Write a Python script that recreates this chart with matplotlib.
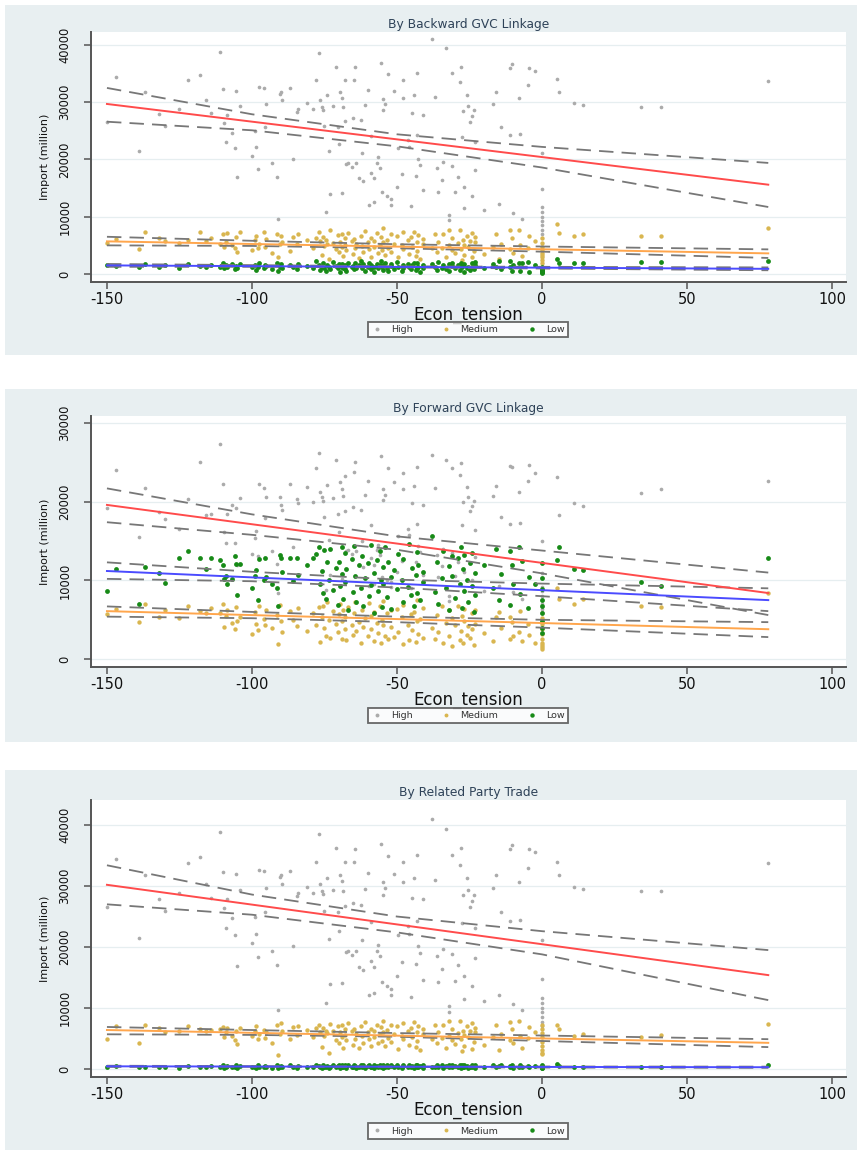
import matplotlib
matplotlib.use("Agg")
import matplotlib.pyplot as plt
from matplotlib.patches import Rectangle
from matplotlib.lines import Line2D

plt.rcParams["font.family"] = ["DejaVu Sans"]
plt.rcParams["axes.unicode_minus"] = False

# === Data ===
ECON_TENSION = [
    -150, -147, -139, -137, -132, -130, -125, -122, -118, -116,
    -114, -111, -110, -109.5, -109, -108.5, -107, -106, -105.5, -105,
    -104, -100, -99, -98.5, -98, -97.5, -96, -95.5, -95, -93,
    -91.5, -91, -90.5, -90, -89.5, -87, -86, -84.5, -84, -81,
    -79, -78, -77, -76.5, -76, -75.5, -75, -74.5, -74, -73.5,
    -73, -72, -71, -70.5, -70, -69.5, -69, -68.8, -68.5, -68,
    -67.8, -67.5, -67, -65.5, -65, -64.8, -64.5, -64, -63, -62.5,
    -62, -61.8, -61, -60, -59.8, -59, -58.8, -58, -57.8, -57,
    -56.5, -56, -55.5, -55.2, -55, -54.8, -54, -53.5, -53, -52.2,
    -52, -51, -50, -49.8, -48.2, -48, -47.8, -46.2, -46, -45.2,
    -45, -44, -43.5, -43.2, -43, -42.8, -42, -41.2, -41, -38,
    -37, -36.2, -36, -34.5, -34, -33, -32.2, -32, -31.2, -31,
    -30, -29, -28.2, -28, -27.6, -27.2, -27, -26.8, -26, -25.5,
    -25, -24.2, -24, -23.5, -23.2, -23, -20, -17, -16, -15,
    -14, -11.2, -11, -10.2, -10, -8, -7.5, -7, -5, -4.5,
    -2.5, 0, 0, 0, 0, 0, 0, 0, 0, 0,
    5, 6, 11, 14, 34, 41, 78,
]

# By Backward GVC Linkage
BACKWARD_HIGH = [
    26500, 34400, 21500, 31800, 27900, 25900, 28800, 33800, 34800, 30400,
    28100, 38800, 32300, 26400, 23100, 27800, 24700, 22000, 32000, 16900,
    29400, 20600, 24900, 22200, 18400, 32700, 32500, 25700, 29700, 19400,
    17000, 9600, 31400, 31800, 30400, 32500, 20100, 28300, 28900, 29900,
    28900, 33900, 38600, 30400, 29200, 28700, 25900, 10900, 31300, 21400,
    14000, 29300, 36200, 25700, 22700, 31800, 30800, 14100, 29200, 33900,
    26700, 19200, 19400, 18700, 27300, 33900, 36100, 19400, 16800, 26900,
    21200, 16300, 29500, 32100, 12100, 17700, 24100, 12500, 16800, 19400,
    20400, 18500, 36900, 14300, 30600, 28600, 29700, 13600, 34900, 13100,
    12100, 32000, 15200, 22000, 17500, 33900, 30700, 23400, 22200, 11800,
    28100, 31300, 17200, 35100, 24300, 20100, 19000, 14600, 27800, 41000,
    31000, 18500, 14300, 16400, 19600, 39400, 10300, 9400, 35100, 18900,
    14400, 17000, 33500, 36200, 24000, 28500, 15200, 11500, 31300, 29300,
    26600, 27600, 13600, 28600, 23100, 18200, 11100, 29700, 31800, 12200,
    25700, 24300, 36000, 36700, 10700, 30700, 24500, 9600, 33000, 36000,
    35500, 21100, 14800, 11700, 10800, 10000, 9300, 8600, 7700, 7000,
    34000, 31800, 29900, 29500, 29200, 29200, 33700,
]
BACKWARD_MEDIUM = [
    5400, 6100, 4400, 7300, 6200, 5800, 5400, 6000, 7300, 5800,
    6300, 5200, 6900, 4800, 5600, 7100, 5100, 4600, 6500, 3900,
    7300, 4200, 5900, 6600, 4500, 5300, 7300, 4800, 6100, 3600,
    7000, 3000, 5200, 6700, 5600, 4100, 6400, 5300, 7000, 5900,
    4500, 6200, 7400, 5700, 3300, 6500, 4900, 6000, 5200, 2600,
    7600, 5400, 4300, 6800, 3800, 5600, 7000, 4700, 3100, 6300,
    5000, 4200, 7200, 5700, 3500, 6100, 4600, 5300, 2800, 6700,
    4900, 3900, 7500, 5500, 4400, 6200, 3000, 5800, 4700, 7100,
    3700, 5100, 6500, 4200, 8000, 5600, 3300, 6000, 4600, 7000,
    3900, 5200, 6600, 2900, 5000, 7300, 4300, 5900, 3500, 6400,
    4800, 7400, 3200, 5500, 4100, 6800, 2700, 5300, 6100, 4500,
    7000, 3800, 5600, 4600, 6900, 3000, 5000, 7600, 4200, 6300,
    3600, 5400, 7700, 4400, 2500, 6000, 5100, 3300, 6700, 4700,
    5800, 2900, 7200, 4000, 5500, 6400, 3500, 4800, 6900, 2600,
    5200, 7600, 4300, 6200, 3700, 7600, 5000, 3100, 4600, 6600,
    5700, 4800, 4200, 3600, 3000, 2400, 2000, 5400, 6200, 3300,
    8700, 7200, 6600, 6900, 6600, 6700, 8000,
]
BACKWARD_LOW = [
    1600, 1400, 1300, 1700, 1200, 1500, 1100, 1800, 1400, 1300,
    1600, 1200, 1900, 1000, 1500, 1300, 1700, 900, 1400, 1100,
    1800, 1200, 1500, 700, 1300, 2000, 1000, 1600, 1400, 800,
    1900, 500, 1200, 1700, 1100, 1500, 1300, 900, 1800, 1400,
    1000, 2200, 1600, 700, 1300, 1900, 1100, 500, 1500, 1200,
    800, 2100, 1400, 1000, 1700, 400, 1300, 1800, 1100, 900,
    1600, 600, 2000, 1200, 1400, 800, 1900, 1000, 1500, 2300,
    1100, 1700, 600, 1300, 2000, 900, 1500, 1200, 400, 1800,
    1000, 1600, 2200, 1300, 700, 1500, 1900, 1100, 500, 1400,
    1700, 900, 2100, 1200, 600, 1600, 1000, 1800, 1300, 800,
    1500, 2000, 700, 1100, 1900, 1200, 400, 1600, 1000, 1800,
    1300, 700, 2100, 1100, 1500, 900, 1700, 500, 1400, 1900,
    1000, 1600, 700, 2000, 1200, 1500, 400, 1800, 1100, 1300,
    700, 1900, 1200, 900, 1500, 2100, 1000, 1700, 1300, 2300,
    800, 1200, 2200, 600, 1600, 1900, 500, 2000, 2100, 400,
    1500, 1200, 900, 700, 500, 400, 300, 1000, 600, 200,
    2600, 1900, 1900, 1900, 2100, 2100, 2300,
]

# By Forward GVC Linkage
FORWARD_HIGH = [
    19200, 24000, 15500, 21800, 18700, 17800, 16500, 20400, 25100, 18300,
    18500, 27400, 22200, 16100, 14700, 18500, 19600, 14700, 19200, 12000,
    20500, 13300, 15400, 16300, 13100, 22200, 21800, 17900, 20600, 13700,
    12100, 8400, 20600, 19600, 19000, 22300, 14300, 20300, 19800, 21900,
    20000, 24300, 26200, 21300, 20600, 20100, 18100, 8800, 22100, 15200,
    10700, 20500, 25300, 18400, 16200, 22500, 21600, 10200, 20700, 23300,
    18800, 13700, 13900, 13400, 19300, 23800, 25000, 13800, 12000, 18900,
    15000, 11700, 20800, 22600, 9300, 12800, 17000, 9500, 12000, 13900,
    14500, 13200, 25800, 10500, 21600, 20200, 20800, 10100, 24300, 9800,
    9200, 22500, 11100, 15600, 12500, 23600, 21600, 16600, 15800, 9100,
    19800, 22000, 12400, 24400, 17200, 14400, 13600, 10700, 19600, 26000,
    21700, 13200, 10500, 11800, 14000, 25300, 8000, 7400, 24300, 13500,
    10600, 12300, 23400, 24900, 17000, 20000, 11100, 8800, 21900, 20600,
    18800, 19500, 10100, 20100, 16400, 13000, 8600, 20700, 22000, 9300,
    18100, 17200, 24600, 24400, 8500, 21300, 17300, 7600, 22700, 24700,
    23600, 15000, 11000, 9200, 8600, 8000, 7500, 7000, 6400, 6000,
    23200, 18300, 19800, 19500, 21100, 21600, 22700,
]
FORWARD_MEDIUM = [
    5700, 6400, 4700, 7000, 5300, 6300, 5200, 6800, 6100, 5800,
    6500, 5900, 7000, 4100, 5500, 6200, 4600, 3800, 6600, 4900,
    5400, 3200, 6000, 4500, 3700, 6700, 5100, 4300, 6300, 4000,
    5600, 1900, 6900, 4800, 3500, 6100, 5000, 4200, 6500, 3600,
    5800, 4400, 6600, 2200, 5300, 6800, 4000, 3000, 7200, 5000,
    2700, 6100, 4500, 3400, 5700, 7000, 2600, 4900, 6200, 3800,
    5400, 2400, 6600, 4300, 3100, 5900, 7300, 3600, 4700, 2000,
    6300, 4100, 5200, 2900, 7100, 3800, 5500, 2300, 6000, 4600,
    3300, 6700, 2100, 5000, 4400, 7400, 3000, 5800, 2600, 6200,
    4100, 2800, 6400, 3500, 5300, 1900, 6900, 4300, 2400, 5700,
    3700, 6000, 2200, 4800, 7500, 3200, 5100, 2700, 6500, 4000,
    2500, 5600, 3400, 6800, 2100, 4600, 6200, 3000, 5200, 1700,
    4400, 6700, 2400, 3600, 5500, 2000, 4900, 6400, 3100, 4200,
    2700, 5900, 3800, 1800, 6300, 4500, 3300, 2300, 5400, 6000,
    3900, 2500, 5300, 4700, 2900, 3500, 6100, 2300, 4500, 3100,
    2100, 5200, 4500, 3800, 3200, 2600, 2100, 1600, 1300, 1800,
    9100, 7700, 7000, 7600, 6700, 6600, 8400,
]
FORWARD_LOW = [
    8600, 11400, 7000, 11700, 10900, 9700, 12800, 13700, 12800, 11500,
    12900, 12600, 11900, 10200, 10600, 9600, 10200, 13100, 12100, 8100,
    12100, 9000, 10600, 11300, 7500, 12700, 10100, 12800, 10400, 9600,
    9000, 6800, 13200, 12900, 11100, 12900, 9900, 12800, 10700, 11900,
    12800, 13300, 14200, 9500, 11200, 8400, 13900, 7700, 12300, 10100,
    14000, 8800, 11600, 6900, 12400, 9300, 14300, 10800, 7600, 13500,
    9800, 11400, 6200, 12700, 8500, 14400, 10600, 7300, 11900, 9000,
    13100, 6700, 10300, 12200, 8000, 14500, 9400, 11000, 5900, 12600,
    8700, 13800, 10100, 6600, 11700, 9600, 14200, 7900, 12400, 10500,
    6400, 11300, 8900, 13300, 10000, 7200, 12700, 9200, 14600, 8100,
    11600, 6800, 10700, 13600, 8400, 12000, 7500, 11100, 9800, 15600,
    8500, 12400, 7000, 10300, 13800, 9000, 11800, 6200, 13100, 10600,
    7800, 12900, 9500, 14300, 6500, 11400, 8700, 13200, 10100, 7300,
    12200, 9300, 13500, 6000, 11000, 8200, 12000, 9000, 14000, 7500,
    10800, 13700, 6900, 11900, 9600, 14200, 8300, 12500, 6500, 10400,
    9500, 12200, 10300, 8900, 7500, 6800, 5800, 4800, 4000, 3300,
    12600, 14300, 11400, 11300, 9800, 9300, 12800,
]

# By Related Party Trade (High group matches the backward-linkage panel)
RELATED_HIGH = BACKWARD_HIGH
RELATED_MEDIUM = [
    5000, 7000, 4300, 7200, 6700, 6000, 6300, 7000, 6500, 6200,
    6400, 6600, 6900, 5200, 6100, 6800, 5400, 4700, 6300, 4100,
    6700, 5500, 6200, 7000, 4900, 5800, 6400, 5100, 6000, 4300,
    7300, 2300, 5700, 7600, 6200, 5000, 6900, 5600, 7100, 6400,
    5200, 6700, 7200, 6000, 3600, 6800, 5400, 6300, 5900, 2700,
    7400, 6200, 4800, 7000, 4300, 6100, 7300, 5300, 3500, 6600,
    5600, 4700, 7500, 6200, 3900, 6500, 5000, 5800, 3400, 7100,
    5500, 4200, 7700, 6000, 4900, 6600, 3700, 6200, 5200, 7300,
    4200, 5700, 6900, 4600, 7900, 6100, 3800, 6400, 5100, 7200,
    4400, 5800, 7000, 3300, 5400, 7600, 4900, 6300, 4000, 6700,
    5200, 7700, 3600, 6000, 4600, 7100, 3100, 5800, 6500, 5000,
    7200, 4300, 6100, 5100, 7300, 3400, 5500, 7800, 4700, 6600,
    4100, 5900, 7800, 4900, 3000, 6300, 5600, 3800, 7000, 5200,
    6200, 3300, 7500, 4500, 6000, 6700, 4000, 5300, 7200, 3100,
    5700, 7700, 4800, 6600, 4200, 7800, 5400, 3500, 5100, 6900,
    6100, 7300, 6600, 5900, 5300, 4500, 3800, 3100, 2600, 2400,
    7200, 6500, 5400, 5800, 5300, 5600, 7400,
]
RELATED_LOW = [
    300, 500, 400, 300, 400, 300, 200, 500, 300, 400,
    500, 300, 600, 200, 400, 500, 300, 400, 600, 200,
    500, 300, 400, 200, 600, 400, 300, 500, 400, 200,
    600, 100, 400, 500, 300, 600, 400, 200, 500, 300,
    400, 700, 500, 300, 200, 600, 400, 300, 500, 200,
    400, 700, 300, 500, 600, 200, 400, 700, 300, 500,
    600, 200, 700, 400, 300, 600, 500, 200, 400, 700,
    300, 600, 200, 500, 700, 300, 400, 600, 200, 500,
    400, 700, 300, 500, 600, 200, 400, 700, 300, 500,
    600, 300, 700, 400, 200, 600, 500, 300, 700, 400,
    500, 200, 600, 400, 700, 300, 500, 600, 200, 400,
    300, 600, 400, 700, 200, 500, 600, 300, 400, 700,
    500, 300, 600, 200, 700, 400, 300, 600, 500, 200,
    400, 700, 300, 500, 600, 200, 400, 700, 300, 500,
    600, 300, 500, 700, 200, 400, 600, 300, 500, 400,
    500, 300, 200, 400, 600, 300, 500, 200, 400, 300,
    800, 500, 300, 300, 300, 300, 700,
]

# Fitted lines (endpoints) and 95% CI bands read at a few x positions
FIT_X = [-150, 78]
CI_X = [-150, -100, -50, 0, 78]

BACKWARD_FITS = {
    "High": ([29700, 15600], [32500, 27900, 24400, 22200, 19400], [26600, 25100, 22300, 18600, 11700]),
    "Medium": ([5700, 3600], [6500, 5800, 5200, 4800, 4300], [5000, 4900, 4500, 3900, 2800]),
    "Low": ([1500, 900], [1750, 1550, 1350, 1250, 1150], [1250, 1250, 1150, 950, 650]),
}
FORWARD_FITS = {
    "High": ([19600, 8400], [21700, 18400, 15600, 13800, 11000], [17400, 15800, 13900, 10900, 5600]),
    "Medium": ([6100, 3800], [6700, 6000, 5400, 5000, 4700], [5400, 5200, 4700, 4000, 2800]),
    "Low": ([11200, 7500], [12300, 11100, 10100, 9600, 9000], [10200, 9900, 9100, 8000, 6100]),
}
RELATED_FITS = {
    "High": ([30200, 15400], [33400, 28600, 25000, 22600, 19500], [27000, 25300, 22400, 18800, 11300]),
    "Medium": ([6400, 4300], [6900, 6400, 5900, 5500, 4900], [5700, 5600, 5300, 4600, 3600]),
    "Low": ([450, 300], [550, 480, 420, 420, 400], [350, 370, 340, 250, 200]),
}

GROUPS = ["High", "Medium", "Low"]
X_TICKS = [-150, -100, -50, 0, 50, 100]

# === Styles ===
W, H = 859, 1153
PANEL_BG = "#E8EFF1"
MARKER_COLORS = {"High": "#ABABAB", "Medium": "#D9B650", "Low": "#178A17"}
MARKER_SIZES = {"High": 7, "Medium": 10, "Low": 12}
LINE_COLORS = {"High": "#FF4B4B", "Medium": "#FFA64D", "Low": "#4B4BFF"}


def fig_rect(left, top, right, bottom):
    """pixel box -> figure fraction [l, b, w, h]"""
    return [left / W, 1 - bottom / H, (right - left) / W, (bottom - top) / H]


def draw_panel(fig, bg_box, ax_box, title, series, fits, ylim, yticks, legend_y):
    bg = Rectangle((bg_box[0], bg_box[1]), bg_box[2], bg_box[3], transform=fig.transFigure,
                   facecolor=PANEL_BG, edgecolor="none", zorder=0)
    fig.add_artist(bg)

    ax = fig.add_axes(ax_box)
    ax.set_facecolor("white")

    for g in GROUPS:
        ax.scatter(ECON_TENSION, series[g], s=MARKER_SIZES[g], color=MARKER_COLORS[g],
                   linewidths=0, zorder=2)
    for g in GROUPS:
        fit, up, lo = fits[g]
        ax.plot(CI_X, up, color="#777777", lw=1.3, dashes=(8, 4.5), zorder=3)
        ax.plot(CI_X, lo, color="#777777", lw=1.3, dashes=(8, 4.5), zorder=3)
        ax.plot(FIT_X, fit, color=LINE_COLORS[g], lw=1.4, zorder=4)

    ax.set_xlim(-155.5, 104.8)
    ax.set_ylim(*ylim)
    ax.set_xticks(X_TICKS)
    ax.set_yticks(yticks)
    ax.set_yticklabels([str(v) for v in yticks])
    ax.grid(axis="y", color="#E6EEF0", lw=0.9)
    ax.set_axisbelow(True)

    for side in ["top", "right"]:
        ax.spines[side].set_visible(False)
    for side in ["left", "bottom"]:
        ax.spines[side].set_color("#555555")
        ax.spines[side].set_linewidth(1.4)

    ax.tick_params(axis="x", length=5, width=1.1, color="#555555", pad=2,
                   labelsize=10.5, labelcolor="#111111")
    ax.tick_params(axis="y", length=5, width=1.1, color="#555555", pad=9,
                   labelsize=8.3, labelcolor="#111111", labelrotation=90)
    for tl in ax.get_yticklabels():
        tl.set_va("center")

    ax.set_xlabel("Econ_tension", fontsize=12, color="#111111", labelpad=-1)
    ax.set_ylabel("Import (million)", fontsize=8, color="#111111", labelpad=6)
    ax.set_title(title, fontsize=8.8, color="#2E4258", pad=3)

    handles = [Line2D([], [], ls="none", marker="o", markersize=2.8 if g != "Low" else 3.2,
                      markerfacecolor=MARKER_COLORS[g], markeredgewidth=0) for g in GROUPS]
    leg = ax.legend(handles, GROUPS, loc="center", bbox_to_anchor=(468 / W, 1 - legend_y / H),
                    bbox_transform=fig.transFigure, ncol=3, fontsize=6.8, frameon=True,
                    fancybox=False, edgecolor="#444444", borderpad=0.35, handlelength=1.2,
                    handletextpad=0.9, columnspacing=3.0, labelcolor="#333333")
    leg.get_frame().set_linewidth(1.3)
    return ax


def main():
    fig = plt.figure(figsize=(W / 100, H / 100), dpi=100)

    draw_panel(fig, fig_rect(5, 5, 857, 355), fig_rect(91, 32, 846, 282),
               "By Backward GVC Linkage",
               {"High": BACKWARD_HIGH, "Medium": BACKWARD_MEDIUM, "Low": BACKWARD_LOW},
               BACKWARD_FITS, (-1400, 42270), [0, 10000, 20000, 30000, 40000], 329.5)

    draw_panel(fig, fig_rect(5, 389, 857, 742), fig_rect(91, 416, 846, 667),
               "By Forward GVC Linkage",
               {"High": FORWARD_HIGH, "Medium": FORWARD_MEDIUM, "Low": FORWARD_LOW},
               FORWARD_FITS, (-1000, 30900), [0, 10000, 20000, 30000], 715.5)

    draw_panel(fig, fig_rect(5, 770, 857, 1150), fig_rect(91, 800, 846, 1077),
               "By Related Party Trade",
               {"High": RELATED_HIGH, "Medium": RELATED_MEDIUM, "Low": RELATED_LOW},
               RELATED_FITS, (-1300, 44100), [0, 10000, 20000, 30000, 40000], 1131)

    fig.savefig("out.png", dpi=100)
    plt.close(fig)


if __name__ == "__main__":
    main()
